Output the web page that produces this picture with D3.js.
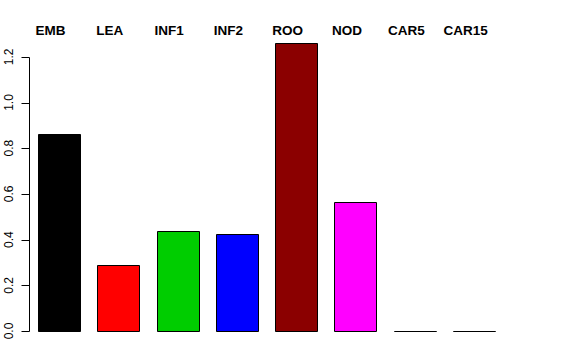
<!DOCTYPE html>
<html>
<head>
<meta charset="utf-8">
<script src="https://cdn.jsdelivr.net/npm/d3@7"></script>
<style>
  body { margin: 0; background: #fff; }
  svg { display: block; font-family: "Liberation Sans", Arial, Helvetica, sans-serif; }
</style>
</head>
<body>
<svg id="chart" width="576" height="360"></svg>
<script>
// chart data
const categories = ["EMB", "LEA", "INF1", "INF2", "ROO", "NOD", "CAR5", "CAR15"];
const values = [0.86, 0.29, 0.438, 0.423, 1.259, 0.563, 0, 0];
const barColors = ["#000000", "#FF0000", "#00CD00", "#0000FF", "#8B0000", "#FF00FF", "#00FFFF", "#BEBEBE"];
const yTicks = [0, 0.2, 0.4, 0.6, 0.8, 1.0, 1.2];

const svg = d3.select('#chart');

// scales
const x = d3.scaleBand()
  .domain(categories)
  .range([20.8, 512.4])
  .paddingInner(0.29)
  .paddingOuter(0.29);

const y = d3.scaleLinear()
  .domain([0, 1.2])
  .range([331, 56.8]);

// bars (drawn as paths so zero-height bars still show their border)
svg.append('g')
  .selectAll('path')
  .data(categories)
  .join('path')
  .attr('d', (c, i) => {
    const x0 = Math.round(x(c)) + 0.5;
    const y0 = Math.round(y(0)) + 0.5;
    const y1 = Math.round(y(values[i])) + 0.5;
    const w = Math.round(x.bandwidth());
    return `M${x0},${y0}H${x0 + w}V${y1}H${x0}Z`;
  })
  .attr('fill', (c, i) => barColors[i])
  .attr('stroke', '#000')
  .attr('stroke-width', 1);

// y axis, R style: line spans first to last tick, labels parallel to the axis
const axisX = 29.5;
const yAxis = svg.append('g');

yAxis.append('line')
  .attr('x1', axisX).attr('x2', axisX)
  .attr('y1', Math.round(y(yTicks[0])) + 0.5)
  .attr('y2', Math.round(y(yTicks[yTicks.length - 1])) + 0.5)
  .attr('stroke', '#000');

yAxis.selectAll('.tick')
  .data(yTicks)
  .join('line')
  .attr('class', 'tick')
  .attr('x1', axisX - 8).attr('x2', axisX)
  .attr('y1', d => Math.round(y(d)) + 0.5)
  .attr('y2', d => Math.round(y(d)) + 0.5)
  .attr('stroke', '#000');

yAxis.selectAll('.tick-label')
  .data(yTicks)
  .join('text')
  .attr('class', 'tick-label')
  .attr('transform', d => `translate(13,${y(d)}) rotate(-90)`)
  .attr('text-anchor', 'middle')
  .attr('font-size', 12)
  .attr('fill', '#000')
  .text(d => d3.format('.1f')(d));

// category labels along the top
svg.append('g')
  .selectAll('text')
  .data(categories)
  .join('text')
  .attr('x', c => x(c) + x.bandwidth() / 2 - 8.5)
  .attr('y', 34.5)
  .attr('text-anchor', 'middle')
  .attr('font-size', 13.5)
  .attr('font-weight', 'bold')
  .attr('fill', '#000')
  .text(c => c);
</script>
</body>
</html>
